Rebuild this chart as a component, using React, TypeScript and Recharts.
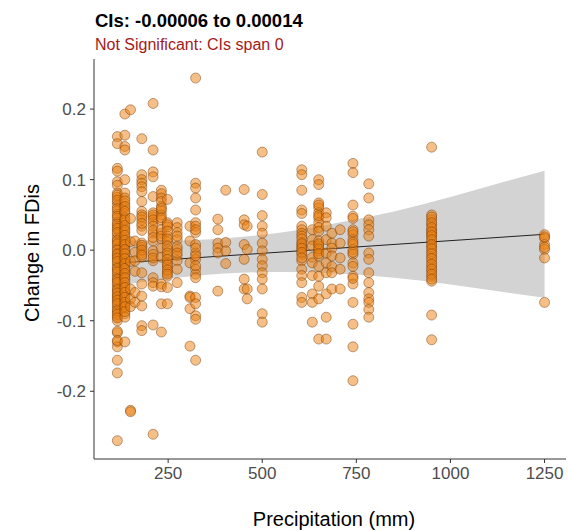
import {
  Area,
  ComposedChart,
  Line,
  Scatter,
  XAxis,
  YAxis,
} from "recharts";

// precipitation levels (mm) and the change-in-FDis values read at each one
const precipLevels = [
  115, 135, 150, 162, 180, 210, 232, 248, 274, 308, 323, 382, 403, 452, 460,
  500, 605, 633, 650, 670, 685, 707, 741, 783, 950, 1250,
];

const col115 = [
  0.161, 0.151, 0.116, 0.112, 0.097, 0.092, 0.081, 0.075, 0.068, 0.063, 0.056,
  0.051, 0.045, 0.04, 0.034, 0.029, 0.022, 0.017, 0.012, 0.006, 0.002, -0.004,
  -0.008, -0.013, -0.019, -0.023, -0.028, -0.034, -0.038, -0.043, -0.049,
  -0.053, -0.058, -0.064, -0.068, -0.073, -0.079, -0.083, -0.088, -0.094,
  -0.1, -0.117, -0.13, -0.137, -0.156, -0.174, -0.27,
  0.078, 0.071, 0.059, 0.048, 0.037, 0.031, 0.025, 0.014, 0.009, 0.0, -0.006,
  -0.011, -0.016, -0.026, -0.031, -0.041, -0.046, -0.056, -0.061, -0.066,
  -0.071, -0.076, -0.086, -0.091, -0.096, -0.115, -0.128,
];
const col135 = [
  0.193, 0.163, 0.147, 0.142, 0.1, 0.081, 0.074, 0.066, 0.059, 0.052, 0.046,
  0.039, 0.031, 0.025, 0.018, 0.011, 0.005, -0.002, -0.009, -0.016, -0.022,
  -0.029, -0.036, -0.042, -0.05, -0.057, -0.064, -0.07, -0.077, -0.083,
  -0.09, -0.095, -0.13,
  0.07, 0.062, 0.055, 0.043, 0.035, 0.028, 0.021, 0.014, 0.008, 0.001, -0.005,
  -0.012, -0.019, -0.026, -0.033, -0.039, -0.046, -0.053, -0.06, -0.067,
  -0.074, -0.08, -0.087,
];
const col150 = [0.199, 0.045, 0.012, -0.016, -0.055, -0.069, -0.08, -0.227, -0.229];
const col162 = [0.013, -0.003, -0.015, -0.03, -0.06, -0.074];
const col180 = [
  0.158, 0.107, 0.1, 0.095, 0.09, 0.083, 0.069, 0.055, 0.05, 0.043, 0.034,
  0.028, 0.01, 0.004, -0.004, -0.01, -0.032, -0.048, -0.065, -0.079, -0.107,
  -0.114, 0.047, 0.038, 0.007, 0.0, -0.007,
];
const col210 = [
  0.208, 0.142, 0.111, 0.104, 0.076, 0.053, 0.047, 0.039, 0.024, 0.013,
  -0.001, -0.015, -0.039, -0.046, -0.051, -0.106, -0.261, 0.05, 0.043, 0.034,
  0.028, 0.018, -0.006, -0.011,
];
const col232 = [
  0.085, 0.08, 0.074, 0.062, 0.056, 0.05, 0.043, 0.024, 0.016, 0.003, -0.01,
  -0.048, -0.052, -0.076, -0.116, 0.069, 0.059, 0.046, 0.029, 0.02,
];
const col248 = [
  0.072, 0.039, 0.033, 0.02, 0.012, 0.001, -0.008, -0.018, -0.024, -0.031,
  -0.037, -0.053, -0.076, 0.036, 0.027, 0.016, 0.006, -0.004, -0.013, -0.021,
  -0.028, -0.034,
];
const col274 = [0.039, 0.032, 0.025, 0.015, 0.001, -0.008, -0.015, -0.027, -0.046, 0.02, 0.005, -0.004];
const col308 = [0.034, 0.013, -0.018, -0.065, -0.067, -0.083, -0.136];
const col323 = [
  0.244, 0.095, 0.088, 0.074, 0.057, 0.039, 0.034, 0.025, 0.008, -0.004,
  -0.013, -0.027, -0.034, -0.039, -0.067, -0.076, -0.093, -0.098, -0.156,
  0.029, 0.003, -0.008, -0.022,
];
const col382 = [0.044, 0.029, 0.01, 0.003, -0.004, -0.058];
const col403 = [0.085, 0.011, -0.001, -0.019];
const col452 = [0.086, 0.043, 0.036, 0.008, -0.013, -0.041, -0.055];
const col460 = [0.034, 0.001, -0.055, -0.069];
const col500 = [
  0.139, 0.079, 0.049, 0.034, 0.024, 0.01, -0.001, -0.013, -0.022, -0.032,
  -0.041, -0.055, -0.09, -0.102,
];
const col605 = [
  0.114, 0.107, 0.085, 0.057, 0.052, 0.034, 0.029, 0.024, 0.02, 0.011, 0.006,
  0.001, -0.006, -0.015, -0.027, -0.036, -0.046, -0.067, -0.074, 0.016,
  0.009, 0.003, -0.003, -0.011,
];
const col633 = [0.029, 0.015, 0.006, -0.01, -0.018, -0.036, -0.062, -0.074, -0.102];
const col650 = [
  0.1, 0.093, 0.067, 0.06, 0.053, 0.046, 0.039, 0.032, 0.027, 0.013, 0.006,
  -0.001, -0.008, -0.023, -0.037, -0.051, -0.069, -0.126, 0.064, 0.049,
  0.009, 0.002, -0.005,
];
const col670 = [0.053, 0.046, 0.034, 0.015, -0.004, -0.018, -0.032, -0.062, -0.095, -0.126];
const col685 = [0.024, 0.01, 0.003, -0.008, -0.023, -0.032, -0.055];
const col707 = [0.029, 0.01, -0.011, -0.027, -0.055];
const col741 = [
  0.123, 0.11, 0.064, 0.048, 0.045, 0.029, 0.022, 0.015, 0.008, 0.001,
  -0.006, -0.018, -0.023, -0.037, -0.048, -0.074, -0.105, -0.137, -0.185,
  0.026, 0.011, -0.003, -0.04,
];
const col783 = [
  0.094, 0.074, 0.043, 0.036, 0.029, 0.02, -0.004, -0.013, -0.032, -0.046,
  -0.06, -0.069, -0.074, -0.084, -0.095,
];
const col950 = [
  0.146, 0.05, 0.043, 0.036, 0.029, 0.024, 0.019, 0.012, 0.005, -0.002,
  -0.009, -0.016, -0.023, -0.03, -0.037, -0.044, -0.092, -0.127, 0.047,
  0.039, 0.032, 0.026, 0.021, 0.015, 0.008, 0.002, -0.005, -0.012, -0.02,
  -0.027, -0.034, -0.041,
];
const col1250 = [0.022, 0.017, 0.008, 0.001, -0.011, -0.074, 0.019, 0.004];

const columns = [
  col115, col135, col150, col162, col180, col210, col232, col248, col274,
  col308, col323, col382, col403, col452, col460, col500, col605, col633,
  col650, col670, col685, col707, col741, col783, col950, col1250,
];

// fitted line and its confidence band
const bandX = [115, 250, 400, 550, 700, 850, 1000, 1150, 1250];
const bandLow = [-0.05, -0.0405, -0.033, -0.031, -0.033, -0.039, -0.0485, -0.06, -0.0675];
const bandHigh = [0.014, 0.0135, 0.017, 0.025, 0.039, 0.055, 0.0755, 0.098, 0.1125];
const fitX = [115, 1250];
const fitY = [-0.0183, 0.0225];

const xTicks = [250, 500, 750, 1000, 1250];
const yTicks = [-0.2, -0.1, 0, 0.1, 0.2];

const points = precipLevels.flatMap((p, i) =>
  columns[i].map((v) => ({ x: p, y: v }))
);
const bandData = bandX.map((x, i) => ({ x, band: [bandLow[i], bandHigh[i]] }));
const fitData = fitX.map((x, i) => ({ x, y: fitY[i] }));

const font = "'Liberation Sans', Arial, sans-serif";

const Dot = (props: any) => (
  <circle
    cx={props.cx}
    cy={props.cy}
    r={5}
    fill="#ec8010"
    fillOpacity={0.5}
    stroke="#6b3300"
    strokeOpacity={0.55}
    strokeWidth={0.8}
  />
);

export default function App() {
  return (
    <div style={{ position: "fixed", left: 0, top: 0, width: 568, height: 531, background: "#fff" }}>
      <ComposedChart
        width={568}
        height={531}
        margin={{ top: 59, right: 2, bottom: 42, left: 0 }}
      >
        <XAxis
          type="number"
          dataKey="x"
          domain={[53, 1307]}
          ticks={xTicks}
          allowDataOverflow
          height={30}
          stroke="#333"
          tickSize={4}
          tickMargin={4}
          tick={{ fill: "#4d4d4d", fontSize: 17, fontFamily: font }}
        />
        <YAxis
          type="number"
          dataKey="y"
          domain={[-0.296, 0.271]}
          ticks={yTicks}
          allowDataOverflow
          width={94}
          stroke="#333"
          tickSize={4}
          tickMargin={4}
          tickFormatter={(v: number) => (v === 0 ? "0.0" : String(v))}
          tick={{ fill: "#4d4d4d", fontSize: 17, fontFamily: font }}
        />
        <Area
          data={bandData}
          dataKey="band"
          type="monotone"
          fill="#d3d3d3"
          fillOpacity={1}
          stroke="none"
          isAnimationActive={false}
        />
        <Scatter data={points} shape={Dot} isAnimationActive={false} />
        <Line
          data={fitData}
          dataKey="y"
          type="linear"
          stroke="#222"
          strokeWidth={1}
          dot={false}
          activeDot={false}
          isAnimationActive={false}
        />
      </ComposedChart>
      <svg
        width={568}
        height={531}
        style={{ position: "absolute", left: 0, top: 0, pointerEvents: "none" }}
      >
        <text x={95} y={26.5} fontFamily={font} fontSize={18.5} fontWeight="bold" fill="#000">
          CIs: -0.00006 to 0.00014
        </text>
        <text x={95} y={50} fontFamily={font} fontSize={16} fill="#a31b1b">
          Not Significant: CIs span 0
        </text>
        <text x={334} y={526} textAnchor="middle" fontFamily={font} fontSize={20} fill="#000">
          Precipitation (mm)
        </text>
        <text
          x={0}
          y={0}
          transform="translate(39 253) rotate(-90)"
          textAnchor="middle"
          fontFamily={font}
          fontSize={20}
          fill="#000"
        >
          Change in FDis
        </text>
      </svg>
    </div>
  );
}
